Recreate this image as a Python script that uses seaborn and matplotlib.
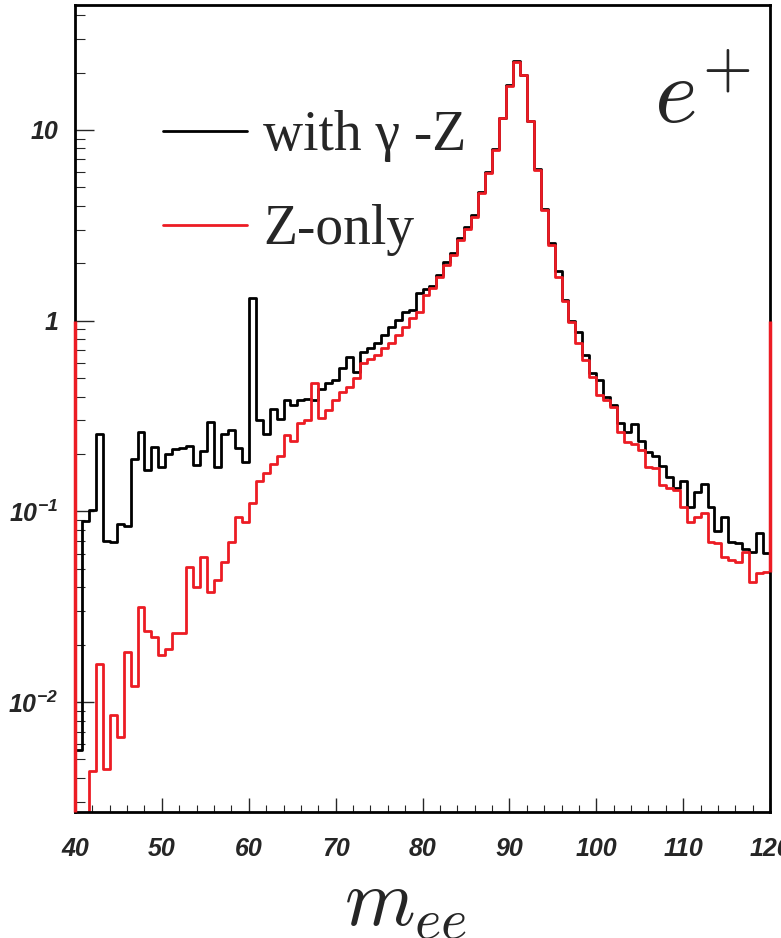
import numpy as np
import pandas as pd
import matplotlib
matplotlib.use("Agg")
import matplotlib.pyplot as plt
import matplotlib.ticker as mticker
from matplotlib.lines import Line2D
import seaborn as sns

# m_ee spectrum, 100 bins of 0.8 GeV between 40 and 120
bin_lo, bin_hi, n_bins = 40, 120, 100
edges = np.linspace(bin_lo, bin_hi, n_bins + 1)
centers = 0.5 * (edges[:-1] + edges[1:])

with_gz = [
    0.0056, 0.089, 0.102, 0.254, 0.070, 0.069, 0.086, 0.084, 0.188, 0.262,
    0.165, 0.217, 0.170, 0.199, 0.211, 0.216, 0.220, 0.176, 0.207, 0.295,
    0.170, 0.254, 0.268, 0.216, 0.182, 1.32, 0.303, 0.254, 0.345, 0.305,
    0.383, 0.360, 0.385, 0.387, 0.384, 0.436, 0.473, 0.489, 0.562, 0.647,
    0.540, 0.688, 0.716, 0.760, 0.841, 0.931, 1.01, 1.11, 1.14, 1.39,
    1.46, 1.52, 1.74, 2.02, 2.26, 2.70, 3.08, 3.56, 4.70, 6.00,
    7.90, 11.6, 17.1, 22.9, 19.5, 11.2, 6.25, 3.85, 2.55, 1.81,
    1.28, 1.00, 0.875, 0.661, 0.530, 0.489, 0.399, 0.361, 0.290, 0.262,
    0.287, 0.235, 0.205, 0.194, 0.173, 0.151, 0.132, 0.145, 0.106, 0.127,
    0.139, 0.106, 0.0784, 0.0938, 0.0694, 0.0686, 0.0632, 0.0615, 0.0768, 0.0603,
]

z_only = [
    0.001, 0.0022, 0.00433, 0.0158, 0.00447, 0.00857, 0.00656, 0.0183, 0.0122, 0.0315,
    0.0237, 0.0219, 0.0177, 0.0189, 0.0229, 0.0229, 0.0508, 0.0403, 0.0577, 0.0376,
    0.0437, 0.0541, 0.0694, 0.0931, 0.0883, 0.110, 0.144, 0.159, 0.177, 0.196,
    0.252, 0.235, 0.290, 0.300, 0.470, 0.309, 0.340, 0.384, 0.424, 0.451,
    0.499, 0.598, 0.628, 0.661, 0.716, 0.761, 0.841, 0.931, 1.03, 1.11,
    1.37, 1.48, 1.70, 1.96, 2.21, 2.65, 3.01, 3.51, 4.65, 5.93,
    7.85, 11.5, 17.0, 22.8, 19.4, 11.1, 6.17, 3.80, 2.49, 1.70,
    1.26, 0.989, 0.760, 0.622, 0.509, 0.408, 0.384, 0.354, 0.262, 0.232,
    0.225, 0.210, 0.171, 0.168, 0.138, 0.132, 0.129, 0.106, 0.0884, 0.0938,
    0.0977, 0.0694, 0.068, 0.0578, 0.0556, 0.0545, 0.0615, 0.0427, 0.0473, 0.0483,
]
z_only_edge = 1.0  # height of the red under/overflow edges

y_min, y_max = 0.00265, 45.0
x_ticks = [40, 50, 60, 70, 80, 90, 100, 110, 120]
y_ticks = [0.01, 0.1, 1, 10]
y_tick_labels = [r"$\mathregular{10^{-2}}$", r"$\mathregular{10^{-1}}$", "1", "10"]

df = pd.DataFrame({"m": centers, "with_gz": with_gz, "z_only": z_only})

RED = "#ec1c24"

sns.set_style("white")
plt.rcParams["font.family"] = ["Liberation Sans", "DejaVu Sans"]
plt.rcParams["mathtext.fontset"] = "custom"
plt.rcParams["mathtext.rm"] = "Liberation Sans:bold:italic"

fig = plt.figure(figsize=(7.81, 9.38), dpi=100)
ax = fig.add_axes([0.096, 0.1343, 0.890, 0.860])
ax.set_yscale("log")

sns.histplot(data=df, x="m", weights="with_gz", bins=list(edges), element="step",
             fill=False, color="black", linewidth=2.0, ax=ax)
sns.histplot(data=df, x="m", weights="z_only", bins=list(edges), element="step",
             fill=False, color=RED, linewidth=2.0, ax=ax)

# red edges at the histogram borders
ax.vlines(bin_lo, y_min, z_only_edge, color=RED, lw=2.5, zorder=4, clip_on=False)
ax.vlines(bin_hi, z_only[-1], z_only_edge, color=RED, lw=2.5, zorder=4, clip_on=False)

ax.set_xlim(bin_lo, bin_hi)
ax.set_ylim(y_min, y_max)
ax.set_ylabel("")
ax.set_xlabel("")

for s in ax.spines.values():
    s.set_color("black")
    s.set_linewidth(2.0)

ax.set_xticks(x_ticks)
ax.xaxis.set_minor_locator(mticker.MultipleLocator(2))
ax.set_yticks(y_ticks)
ax.set_yticklabels(y_tick_labels)
ax.yaxis.set_minor_locator(mticker.LogLocator(base=10, subs=np.arange(2, 10)))
ax.yaxis.set_minor_formatter(mticker.NullFormatter())
ax.tick_params(axis="x", which="major", direction="in", length=10, width=1, pad=18,
               labelsize=18, bottom=True)
ax.tick_params(axis="x", which="minor", direction="in", length=5, width=0.8, bottom=True)
ax.tick_params(axis="y", which="major", direction="in", length=14, width=1, pad=12,
               labelsize=18, left=True)
ax.tick_params(axis="y", which="minor", direction="in", length=7, width=0.8, left=True)
for lab in ax.get_xticklabels() + ax.get_yticklabels():
    lab.set_fontweight("bold")
    lab.set_fontstyle("italic")

fig.text(0.519, 0.0139, r"$m_{ee}$", fontsize=58, math_fontfamily="cm",
         ha="center", va="baseline")
ax.text(0.833, 0.855, r"$e^{+}$", transform=ax.transAxes, fontsize=66,
        math_fontfamily="cm", ha="left", va="baseline")

handles = [Line2D([], [], color="black", lw=2.0),
           Line2D([], [], color=RED, lw=2.0)]
ax.legend(handles, ["with \u03b3 -Z", "Z-only"], loc="upper left",
          bbox_to_anchor=(0.127, 0.870), frameon=False, borderpad=0, borderaxespad=0,
          handlelength=1.5, handletextpad=0.3, labelspacing=0.755,
          prop={"family": "Liberation Serif", "size": 40})

fig.savefig("out.png", dpi=100)
